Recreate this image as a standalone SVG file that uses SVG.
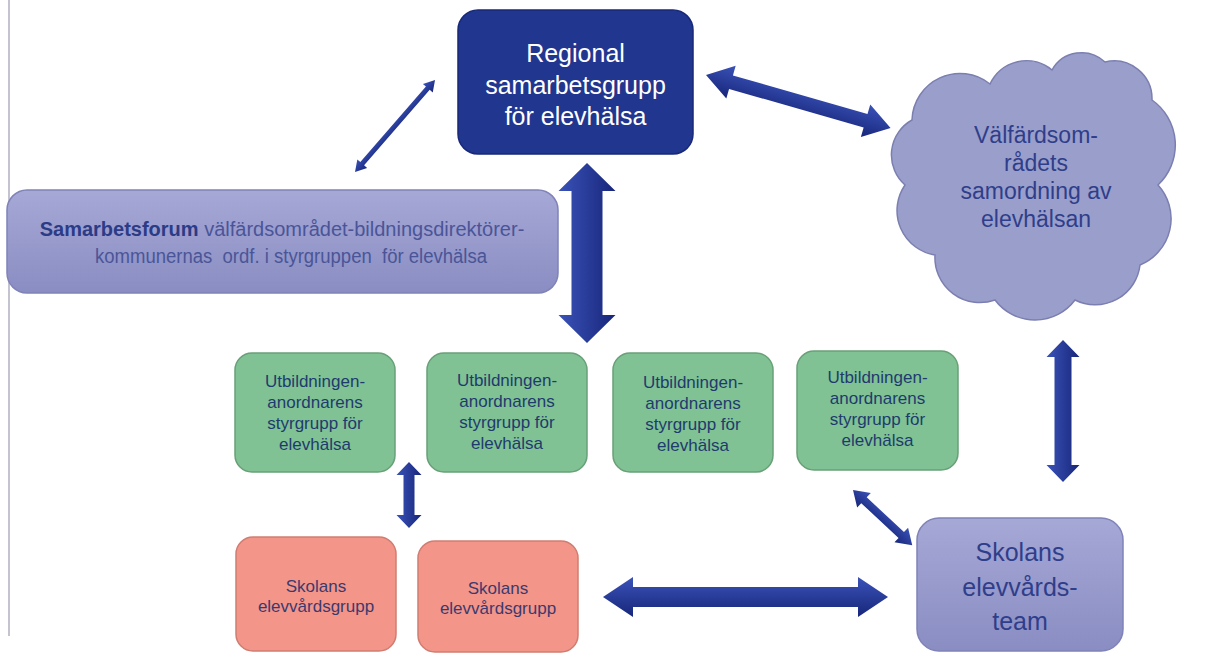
<svg xmlns="http://www.w3.org/2000/svg" width="1206" height="653" viewBox="0 0 1206 653">
<defs>
<linearGradient id="ag" x1="0" y1="0" x2="0" y2="1">
<stop offset="0" stop-color="#3a52b8"/>
<stop offset="1" stop-color="#17267a"/>
</linearGradient>
<linearGradient id="lav" x1="0" y1="0" x2="0" y2="1">
<stop offset="0" stop-color="#a6a8d6"/>
<stop offset="1" stop-color="#8a8dc2"/>
</linearGradient>
<style>
text{font-family:"Liberation Sans",Arial,sans-serif;text-anchor:middle}
.arrow{fill:url(#ag)}
.green rect{fill:#80c293;stroke:#68a078;stroke-width:1.5}
.green text{font-size:17px;fill:#1e3b6e}
.red rect{fill:#f4958a;stroke:#cf7d72;stroke-width:1.5}
.red text{font-size:17px;fill:#3b3a6e}
.lavtxt{fill:#2f3e8a}
</style>
</defs>
<rect width="1206" height="653" fill="#ffffff"/>
<line x1="9" y1="0" x2="9" y2="636" stroke="#c4c4d0" stroke-width="2"/>

<g id="connectors">
<polygon class="arrow" transform="translate(355,172) rotate(-49)" points="0,0 11,-6.5 11,-2.5 111,-2.5 111,-6.5 122,0 111,6.5 111,2.5 11,2.5 11,6.5"/>
<polygon class="arrow" transform="translate(706,75) rotate(16)" points="0,0 26,-17 26,-7 166,-7 166,-17 192,0 166,17 166,7 26,7 26,17"/>
<polygon class="arrow" transform="translate(587,343) rotate(-90)" points="0,0 28,-28.5 28,-15.5 152,-15.5 152,-28.5 180,0 152,28.5 152,15.5 28,15.5 28,28.5"/>
<polygon class="arrow" transform="translate(409,528) rotate(-90)" points="0,0 13,-12.5 13,-5.5 53,-5.5 53,-12.5 66,0 53,12.5 53,5.5 13,5.5 13,12.5"/>
<polygon class="arrow" transform="translate(603,597)" points="0,0 30,-20 30,-10 255,-10 255,-20 285,0 255,20 255,10 30,10 30,20"/>
<polygon class="arrow" transform="translate(853,490) rotate(43)" points="0,0 15,-10 15,-4 66,-4 66,-10 81,0 66,10 66,4 15,4 15,10"/>
<polygon class="arrow" transform="translate(1063,482) rotate(-90)" points="0,0 17,-16.5 17,-8.5 125,-8.5 125,-16.5 142,0 125,16.5 125,8.5 17,8.5 17,16.5"/>
</g>

<g id="regional">
<rect x="458" y="10" width="235" height="144" rx="20" fill="#21368f" stroke="#18297a" stroke-width="1.5"/>
<text x="575.5" y="62" font-size="25" fill="#ffffff">Regional</text>
<text x="575.5" y="94" font-size="25" fill="#ffffff">samarbetsgrupp</text>
<text x="575.5" y="125" font-size="25" fill="#ffffff">för elevhälsa</text>
</g>

<g id="cloud">
<path d="M912,120 A48,48 0 0 1 990,84 A40,40 0 0 1 1052,70 A34,34 0 0 1 1105,62 A38,38 0 0 1 1152,100 A55,55 0 0 1 1158,185 A50,50 0 0 1 1140,265 A45,45 0 0 1 1075,300 A50,50 0 0 1 995,300 A45,45 0 0 1 935,255 A45,45 0 0 1 905,185 A40,40 0 0 1 912,120 Z" fill="#9a9ecb" stroke="#7b7fb0" stroke-width="1.5"/>
<text class="lavtxt" x="1036" y="143" font-size="23">Välfärdsom-</text>
<text class="lavtxt" x="1036" y="171" font-size="23">rådets</text>
<text class="lavtxt" x="1036" y="199" font-size="23">samordning av</text>
<text class="lavtxt" x="1036" y="227" font-size="23">elevhälsan</text>
</g>

<g id="samarbetsforum">
<rect x="7" y="190" width="551" height="103" rx="20" fill="url(#lav)" stroke="#7f83b8" stroke-width="1.5"/>
<text x="282" y="236" font-size="20" fill="#4a5598"><tspan font-weight="bold" fill="#2c3b86">Samarbetsforum</tspan> välfärdsområdet-bildningsdirektörer-</text>
<text x="95" y="263" font-size="20" fill="#4a5598" style="text-anchor:start" textLength="392" lengthAdjust="spacingAndGlyphs" xml:space="preserve">kommunernas  ordf. i styrgruppen  för elevhälsa</text>
</g>

<g id="styrgrupp1" class="green">
<rect x="235" y="353" width="160" height="119" rx="17"/>
<text x="315" y="387">Utbildningen-</text>
<text x="315" y="408">anordnarens</text>
<text x="315" y="429">styrgrupp för</text>
<text x="315" y="450">elevhälsa</text>
</g>
<g id="styrgrupp2" class="green">
<rect x="427" y="353" width="160" height="119" rx="17"/>
<text x="507" y="386">Utbildningen-</text>
<text x="507" y="407">anordnarens</text>
<text x="507" y="428">styrgrupp för</text>
<text x="507" y="449">elevhälsa</text>
</g>
<g id="styrgrupp3" class="green">
<rect x="613" y="353" width="160" height="119" rx="17"/>
<text x="693" y="388">Utbildningen-</text>
<text x="693" y="409">anordnarens</text>
<text x="693" y="430">styrgrupp för</text>
<text x="693" y="451">elevhälsa</text>
</g>
<g id="styrgrupp4" class="green">
<rect x="797" y="351" width="161" height="119" rx="17"/>
<text x="877.5" y="383">Utbildningen-</text>
<text x="877.5" y="404">anordnarens</text>
<text x="877.5" y="425">styrgrupp för</text>
<text x="877.5" y="446">elevhälsa</text>
</g>

<g id="elevvardsgrupp1" class="red">
<rect x="236" y="537" width="160" height="114" rx="17"/>
<text x="316" y="592">Skolans</text>
<text x="316" y="612">elevvårdsgrupp</text>
</g>
<g id="elevvardsgrupp2" class="red">
<rect x="418" y="541" width="160" height="111" rx="17"/>
<text x="498" y="594">Skolans</text>
<text x="498" y="614">elevvårdsgrupp</text>
</g>

<g id="elevvardsteam">
<rect x="917" y="518" width="206" height="133" rx="22" fill="url(#lav)" stroke="#7f83b8" stroke-width="1.5"/>
<text class="lavtxt" x="1020" y="561" font-size="25">Skolans</text>
<text class="lavtxt" x="1020" y="596" font-size="25">elevvårds-</text>
<text class="lavtxt" x="1020" y="630" font-size="25">team</text>
</g>
</svg>
